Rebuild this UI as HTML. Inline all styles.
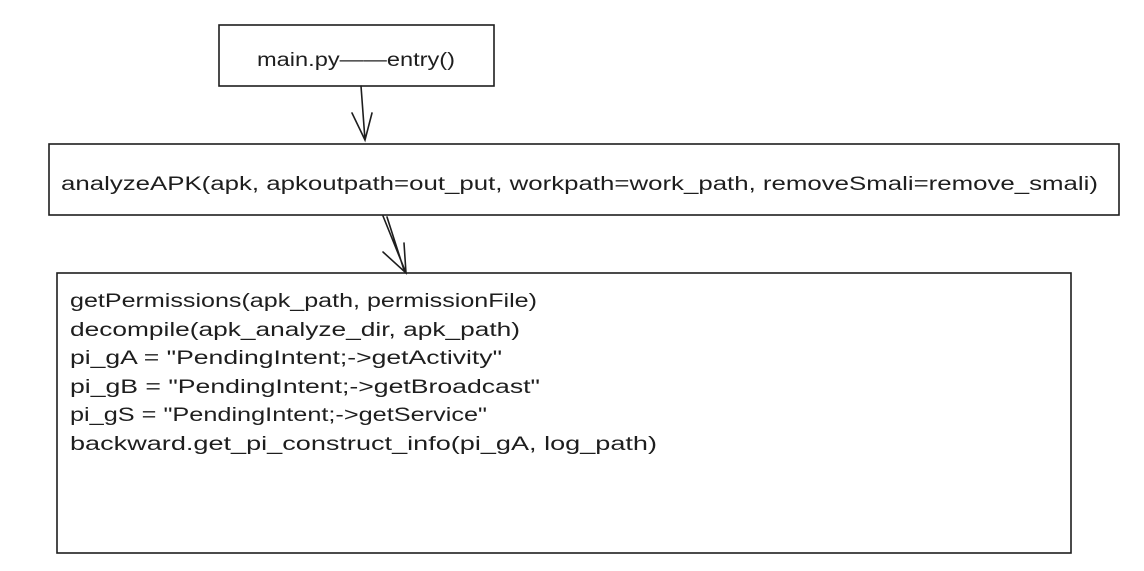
<!DOCTYPE html>
<html><head><meta charset="utf-8"><style>
html,body{margin:0;padding:0;background:#fff;}
svg{display:block;}
text{font-family:"Liberation Sans",sans-serif;font-size:19px;fill:#1e1e1e;}
</style></head><body>
<svg width="1144" height="571" viewBox="0 0 1144 571" xmlns="http://www.w3.org/2000/svg">
<rect x="0" y="0" width="1144" height="571" fill="#fff"/>
<g fill="none" stroke="#1e1e1e" stroke-width="1.6" stroke-linecap="round">
<rect x="219" y="25" width="275" height="61"/>
<rect x="49" y="144" width="1070" height="71"/>
<rect x="57" y="273" width="1014" height="280"/>
<path d="M361 86 L365 140 M352 113 L365 140 L372 113"/>
<path d="M383 216 L406 273 M387 217 L404 270 M383 252 L406 273 L404 243"/>
</g>
<text x="257" y="66" textLength="198" lengthAdjust="spacingAndGlyphs">main.py——entry()</text>
<text x="61" y="190" textLength="1037" lengthAdjust="spacingAndGlyphs">analyzeAPK(apk, apkoutpath=out_put, workpath=work_path, removeSmali=remove_smali)</text>
<text x="70" y="307" textLength="467" lengthAdjust="spacingAndGlyphs">getPermissions(apk_path, permissionFile)</text>
<text x="70" y="336" textLength="450" lengthAdjust="spacingAndGlyphs">decompile(apk_analyze_dir, apk_path)</text>
<text x="70" y="364" textLength="432" lengthAdjust="spacingAndGlyphs">pi_gA = "PendingIntent;-&gt;getActivity"</text>
<text x="70" y="393" textLength="470" lengthAdjust="spacingAndGlyphs">pi_gB = "PendingIntent;-&gt;getBroadcast"</text>
<text x="70" y="421" textLength="417" lengthAdjust="spacingAndGlyphs">pi_gS = "PendingIntent;-&gt;getService"</text>
<text x="70" y="450" textLength="587" lengthAdjust="spacingAndGlyphs">backward.get_pi_construct_info(pi_gA, log_path)</text>
</svg>
</body></html>
